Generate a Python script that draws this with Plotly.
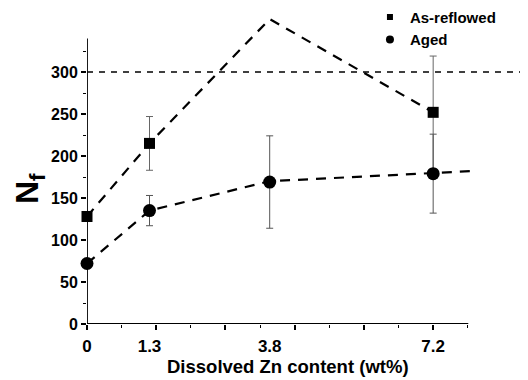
import plotly.graph_objects as go

# ---- data ----
zn_content = [0, 1.3, 3.8, 7.2]
zn_labels = ["0", "1.3", "3.8", "7.2"]

reflow_x = [0, 1.3, 7.2]
reflow_nf = [128, 215, 252]
reflow_err = [6, 32, 67]

aged_x = [0, 1.3, 3.8, 7.2]
aged_nf = [72, 135, 169, 179]
aged_err = [6, 18, 55, 47]

# hand-drawn trend lines
reflow_trend_x = [0, 1.3, 3.8, 7.2]
reflow_trend_y = [128, 215, 363, 252]
aged_trend_x = [0, 1.3, 3.8, 7.2, 8.0]
aged_trend_y = [72, 135, 170, 180, 182]

ref_level = 300

y_major = [0, 50, 100, 150, 200, 250, 300]
y_minor = [25, 75, 125, 175, 225, 275, 325]
x_tick_step = 7.2 / 5
x_major = [i * x_tick_step for i in range(6)]
x_minor = [(i + 0.5) * x_tick_step for i in range(6)]

X_AXIS_END = 7.93
Y_AXIS_END = 340
X_RANGE = [0, 9.11]
Y_RANGE = [0, 376.2]

FONT = "Liberation Sans, Arial, sans-serif"
dash_trend = "10px,8px"

fig = go.Figure()

fig.add_trace(go.Scatter(x=reflow_trend_x, y=reflow_trend_y, mode="lines",
                         line=dict(color="black", width=2.2, dash=dash_trend),
                         showlegend=False, hoverinfo="skip"))
fig.add_trace(go.Scatter(x=aged_trend_x, y=aged_trend_y, mode="lines",
                         line=dict(color="black", width=2.2, dash=dash_trend),
                         showlegend=False, hoverinfo="skip"))

fig.add_trace(go.Scatter(x=reflow_x, y=reflow_nf, mode="markers",
                         marker=dict(symbol="square", size=11, color="black"),
                         error_y=dict(type="data", array=reflow_err, color="#666",
                                      thickness=1, width=3.5),
                         cliponaxis=False, showlegend=False))
fig.add_trace(go.Scatter(x=aged_x, y=aged_nf, mode="markers",
                         marker=dict(symbol="circle", size=13, color="black"),
                         error_y=dict(type="data", array=aged_err, color="#555",
                                      thickness=1, width=3.5),
                         cliponaxis=False, showlegend=False))

# legend entries
fig.add_trace(go.Scatter(x=[None], y=[None], mode="markers", name="As-reflowed",
                         marker=dict(symbol="square", size=6, color="black")))
fig.add_trace(go.Scatter(x=[None], y=[None], mode="markers", name="Aged",
                         marker=dict(symbol="circle", size=8, color="black")))

# carrier trace for the label axis
fig.add_trace(go.Scatter(x=[None], y=[None], xaxis="x2", yaxis="y",
                         showlegend=False, hoverinfo="skip"))

fig.update_layout(
    width=520, height=372,
    margin=dict(l=79, r=3, t=0, b=56, pad=0, autoexpand=False),
    paper_bgcolor="white", plot_bgcolor="white",
    font=dict(family=FONT, color="black", size=16, weight="bold"),
    xaxis=dict(range=X_RANGE, showgrid=False, zeroline=False, showline=False,
               automargin=False,
               tickmode="array", tickvals=x_major, showticklabels=False,
               ticks="outside", ticklen=5, tickwidth=1.5, tickcolor="black",
               minor=dict(tickmode="array", tickvals=x_minor, ticks="outside",
                          ticklen=3, tickwidth=1.2, tickcolor="black")),
    xaxis2=dict(range=X_RANGE, overlaying="x", anchor="y", side="bottom",
                showgrid=False, zeroline=False, showline=False, automargin=False,
                tickmode="array", tickvals=zn_content, ticktext=zn_labels,
                ticks="", ticklabelstandoff=10,
                tickfont=dict(family=FONT, size=17, weight="bold")),
    yaxis=dict(range=Y_RANGE, showgrid=False, zeroline=False, showline=False,
               automargin=False,
               tickmode="array", tickvals=y_major,
               ticks="outside", ticklen=5, tickwidth=1.5, tickcolor="black",
               tickfont=dict(family=FONT, size=16, weight="bold"),
               minor=dict(tickmode="array", tickvals=y_minor, ticks="outside",
                          ticklen=3, tickwidth=1.2, tickcolor="black")),
    legend=dict(x=0.646, y=1.023, xanchor="left", yanchor="top",
                bgcolor="rgba(0,0,0,0)", borderwidth=0,
                font=dict(family=FONT, size=15, weight="bold"),
                tracegroupgap=0, itemsizing="trace"),
    showlegend=True,
)

# axis lines
fig.add_shape(type="line", xref="x", yref="y", x0=0, x1=X_AXIS_END, y0=0, y1=0,
              line=dict(color="black", width=1.8))
fig.add_shape(type="line", xref="x", yref="y", x0=0, x1=0, y0=0, y1=Y_AXIS_END,
              line=dict(color="black", width=1.8))
# reference level
fig.add_shape(type="line", xref="x domain", yref="y", x0=0, x1=1,
              y0=ref_level, y1=ref_level,
              line=dict(color="black", width=1.5, dash="6px,6px"))

# axis titles
fig.add_annotation(text="N<sub>f</sub>", xref="paper", yref="paper",
                   x=-0.1325, y=0.430, xanchor="center", yanchor="middle",
                   textangle=-90, showarrow=False,
                   font=dict(family=FONT, size=32, weight="bold"))
fig.add_annotation(text="Dissolved Zn content (wt%)", xref="paper", yref="paper",
                   x=0.46, y=-0.133, xanchor="center", yanchor="middle",
                   showarrow=False, font=dict(family=FONT, size=18.5, weight="bold"))

fig.write_html("out.html")
